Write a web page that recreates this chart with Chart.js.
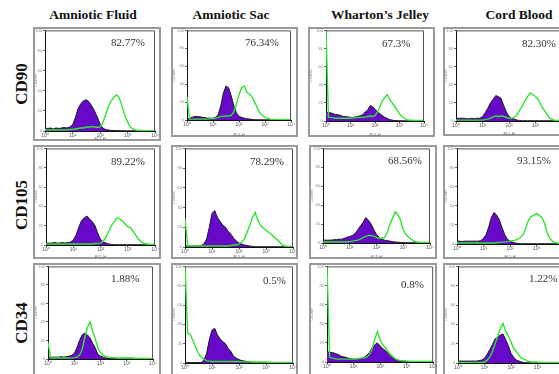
<!DOCTYPE html>
<html>
<head>
<meta charset="utf-8">
<script src="https://cdn.jsdelivr.net/npm/chart.js@4.4.1/dist/chart.umd.min.js"></script>
<style>
  body { margin: 0; width: 559px; height: 374px; overflow: hidden; background: #fff; position: relative; font-family: "Liberation Serif", "Times New Roman", serif; }
  .box { position: absolute; border: 2px solid #9a9a9a; box-sizing: border-box; }
  canvas { position: absolute; }
  .title { position: absolute; top: 7px; font-weight: bold; font-size: 13.5px; transform: translateX(-50%); white-space: nowrap; color: #111; }
  .rowlab { position: absolute; font-weight: bold; font-size: 17px; transform: translate(-50%, -50%) rotate(-90deg); white-space: nowrap; color: #111; }
  .pct { position: absolute; font-size: 11px; color: #333; line-height: 12px; white-space: nowrap; }
</style>
</head>
<body>
<script>
// Eje X en décadas logarítmicas (10^0 .. 10^4)
const decades = [0,0.1,0.2,0.3,0.4,0.5,0.6,0.7,0.8,0.9,1,1.1,1.2,1.3,1.4,1.5,1.6,1.7,1.8,1.9,2,2.1,2.2,2.3,2.4,2.5,2.6,2.7,2.8,2.9,3,3.1,3.2,3.3,3.4,3.5,3.6,3.7,3.8,3.9,4];
const tickLabels = ['10\u2070','10\u00b9','10\u00b2','10\u00b3','10\u2074'];
const sources = ['Amniotic Fluid', 'Amniotic Sac', 'Wharton\u2019s Jelley', 'Cord Blood'];
const markers = ['CD90', 'CD105', 'CD34'];
const percents = [
  ['82.77%', '76.34%', '67.3%', '82.30%'],
  ['89.22%', '78.29%', '68.56%', '93.15%'],
  ['1.88%', '0.5%', '0.8%', '1.22%']
];

// Isotipo (morado) y anticuerpo (verde), % de la altura del gráfico
const afCd90Iso = [3,2.5,3,2,3,2.5,3,3.5,3,4,6,13,22,27,30,31,29,25,20,14,7,3,1.5,1,0.6,0.5,0.4,0.3,0.3,0.2,0.2,0.2,0.2,0.2,0.2,0.2,0.2,0.2,0.2,0.2,0.2];
const afCd90Ab = [1.5,1,1,1,1,1,1,1,1.2,1.5,1.5,2,2.5,3,3,4,4,4.5,4,3.5,4,8,16,24,30,33,36,33,25,16,9,4,2,1,0.6,0.5,0.4,0.4,0.3,0.3,0.3];
const asCd90Iso = [1,2,3,4,4,3.5,3,2.5,2,2,2,3,6,16,30,38,36,27,16,8,4,3,2,1.5,1,0.6,0.4,0.3,0.2,0.2,0.2,0.2,0.2,0.2,0.2,0.2,0.2,0.2,0.2,0.2,0.2];
const asCd90Ab = [26,1,1,1,1,1,1,1,1,1.5,1.5,2,3,4,4,4.5,4.5,5,9,18,28,36,38,31,29,26,20,14,8,5,3,2,1,0.6,0.5,0.4,0.4,0.4,0.4,0.4,0.4];
const wjCd90Iso = [10,9,9,8,7,7,6,5,5,4.5,4,4,4.5,5,6,7,10,12,17,16,13,10,8,6,4,3,1.5,1,0.5,0.4,0.3,0.2,0.2,0.2,0.2,0.2,0.2,0.2,0.2,0.2,0.2];
const wjCd90Ab = [100,4,4,3.5,3,3,3,3,3,3,3,3.5,3.5,4,4,4,4.5,5,5.5,5,6,10,16,22,26,29,24,20,16,12,8,5,3,1.5,1,0.8,0.6,0.5,0.5,0.5,0.5];
const cbCd90Iso = [3,3,3,3,2.5,2.5,3,2.5,3,3,5,9,14,20,24,28,27,25,17,10,5,3,2,1,0.6,0.3,0.3,0.3,0.3,0.3,0.3,0.3,0.3,0.3,0.3,0.3,0.3,0.3,0.3,0.3,0.3];
const cbCd90Ab = [1,1,1,1,1,1,1,1,1,1,1,1.5,2,3,4.5,5.5,5,5.5,5,4,3,3,4,7,12,16,22,27,31,29,27,24,18,13,9,4,2,1,0.6,0.5,0.5];

const afCd105Iso = [2,2,2,2.5,2,2,2.5,2,2.5,3,5,10,18,25,28,30,27,24,20,12,6,3,2,1,0.6,0.3,0.3,0.3,0.3,0.3,0.3,0.3,0.3,0.3,0.3,0.3,0.3,0.3,0.3,0.3,0.3];
const afCd105Ab = [1,1,1,1,1,1,1,1,1,1,1,1,1,1,1,1,1,1,1.5,1.5,2,4,8,14,20,24,28,27,25,22,19,18,14,10,6,3,1.5,1,0.5,0.5,0.5];
const asCd105Iso = [1,1,1,1,1,1,1.5,3,8,20,34,37,30,26,22,20,16,13,9,6,4,3,2,1.5,1,0.6,0.3,0.3,0.3,0.3,0.3,0.3,0.3,0.3,0.3,0.3,0.3,0.3,0.3,0.3,0.3];
const asCd105Ab = [29,1,1,1,1,1,1,1,1,1,1,1,1,1,1,1,1,1.5,2,2,3,5,8,15,22,30,35,27,22,19,17,15,13,10,8,5,2,1,0.6,0.5,0.5];
const wjCd105Iso = [3,3,3,3,3.5,3.5,4,4,5,6,7,8,10,14,18,22,27,24,20,14,9,6,4,3,2.5,2,1.5,1,0.8,0.6,0.5,0.3,0.3,0.3,0.3,0.3,0.3,0.3,0.3,0.3,0.3];
const wjCd105Ab = [1,1,1,1,1,1,1,1,1,1,1.5,2,2.5,3,4,6,7,8,8,7,6,5,5,6,11,20,26,33,30,24,14,9,6,4,2,1,0.6,0.5,0.5,0.5,0.5];
const cbCd105Iso = [3,3,2.5,3,3,3,3,3,3,3.5,6,10,18,28,33,30,25,17,10,5,3,2,1,0.6,0.3,0.3,0.3,0.3,0.3,0.3,0.3,0.3,0.3,0.3,0.3,0.3,0.3,0.3,0.3,0.3,0.3];
const cbCd105Ab = [1,1,1,1,1,1,1,1,1,1,1,1,1,1,1,1.5,1.5,2,2,2.5,3,3.5,4,5,7,10,17,25,29,30,32,30,28,22,12,6,3,1.5,1,0.6,0.5];

const afCd34Iso = [2,2,2,2,2,2.5,2,2.5,3,4,6,12,20,26,28,26,23,17,12,5,3,2,1,0.6,0.3,0.3,0.3,0.3,0.3,0.3,0.3,0.3,0.3,0.3,0.3,0.3,0.3,0.3,0.3,0.3,0.3];
const afCd34Ab = [18,1,1,1,1,1,1,1,1,1.2,1.5,2,4,10,23,34,40,30,22,12,7,4,3,2,1.5,1.5,1.2,1,1,1,1,1,1,0.8,0.6,0.5,0.5,0.5,0.5,0.5,0.5];
const asCd34Iso = [0.5,0.5,0.5,0.5,0.5,0.5,0.5,3,10,24,34,36,29,25,22,20,15,12,7,5,3.5,2.5,2,1.5,1,0.6,0.3,0.3,0.3,0.3,0.3,0.3,0.3,0.3,0.3,0.3,0.3,0.3,0.3,0.3,0.3];
const asCd34Ab = [100,31,29,23,16,10,6,4,2.5,2,1.5,1.5,1.5,1.5,1.5,1.5,1.5,1.5,1.5,1.5,1.5,1.2,1.2,1.2,1.2,1,1,1,1,1,1,0.8,0.6,0.5,0.5,0.5,0.5,0.5,0.5,0.5,0.5];
const wjCd34Iso = [11,10,10,9,8,6.5,5.5,5,4,3.5,3,3,3.5,4,5,7,10,15,18,20,17,14,12,9,6,4,2.5,1.5,1,1,0.6,0.4,0.4,0.4,0.4,0.4,0.4,0.4,0.4,0.4,0.4];
const wjCd34Ab = [100,5,4,3.5,3,3,3,3,3,3,3,3,3.5,4,4.5,5,8,13,24,32,23,18,15,11,8,5,3,2,1.5,1,1,0.6,0.6,0.6,0.6,0.6,0.6,0.6,0.6,0.6,0.6];
const cbCd34Iso = [2,2,2,2,2,2,2,2,2.5,3,5,9,14,19,25,27,29,30,24,18,10,6,3,2,1,0.5,0.3,0.3,0.3,0.3,0.3,0.3,0.3,0.3,0.3,0.3,0.3,0.3,0.3,0.3,0.3];
const cbCd34Ab = [0.5,0.5,0.5,0.5,0.5,0.5,0.5,0.5,0.5,0.5,1,3,6,12,20,28,36,41,33,28,22,15,12,8,5,4,2.5,1.5,1,1,1,0.6,0.6,0.6,0.6,0.6,0.6,0.6,0.6,0.6,0.6];

const isoSeries = [
  [afCd90Iso, asCd90Iso, wjCd90Iso, cbCd90Iso],
  [afCd105Iso, asCd105Iso, wjCd105Iso, cbCd105Iso],
  [afCd34Iso, asCd34Iso, wjCd34Iso, cbCd34Iso]
];
const abSeries = [
  [afCd90Ab, asCd90Ab, wjCd90Ab, cbCd90Ab],
  [afCd105Ab, asCd105Ab, wjCd105Ab, cbCd105Ab],
  [afCd34Ab, asCd34Ab, wjCd34Ab, cbCd34Ab]
];

// Geometría de cada panel: caja, área de trazado y eje X
// [boxL, boxT, boxR, boxB, inL, inT, inR, axisY]
const layout = [
  [[33,27,161,141,45,30,155,131], [171,27,298,137,187,30,291,120], [308,27,435,137,326,29,424,121], [443,27,575,136,456,30,562,121]],
  [[33,145,161,259,46,147,155,245], [171,145,298,259,185,147,293,247], [309,145,437,259,323,147,430,243], [443,145,575,259,457,147,563,244]],
  [[33,263,161,385,48,265,153,359], [171,263,298,385,185,265,293,363], [309,263,437,385,327,265,434,362], [443,263,575,385,458,265,564,363]]
];
const pctPos = [
  [[111,42], [245,42], [382,43], [522,43]],
  [[111,161], [250,161], [388,160], [517,160]],
  [[111,278], [263,280], [401,284], [529,278]]
];
const titleX = [93, 231, 380, 519];
const rowLabelY = [84, 205, 323];

const framePlugin = {
  id: 'frame',
  afterDraw(chart) {
    const a = chart.chartArea, ctx = chart.ctx;
    ctx.save();
    ctx.strokeStyle = '#555';
    ctx.lineWidth = 1;
    ctx.beginPath();
    ctx.moveTo(a.left, a.top + 0.5);
    ctx.lineTo(a.right - 0.5, a.top + 0.5);
    ctx.lineTo(a.right - 0.5, a.bottom);
    ctx.stroke();
    ctx.restore();
  }
};

function addDiv(cls, text, style) {
  const d = document.createElement('div');
  d.className = cls;
  d.textContent = text;
  Object.assign(d.style, style);
  document.body.appendChild(d);
  return d;
}

sources.forEach((s, c) => addDiv('title', s, { left: titleX[c] + 'px' }));
markers.forEach((m, r) => addDiv('rowlab', m, { left: '22px', top: rowLabelY[r] + 'px' }));

for (let r = 0; r < 3; r++) {
  for (let c = 0; c < 4; c++) {
    const [bL, bT, bR, bB, iL, iT, iR, aY] = layout[r][c];
    const w = bR - bL, h = bB - bT;
    addDiv('box', '', { left: bL + 'px', top: bT + 'px', width: w + 'px', height: h + 'px' });

    const cv = document.createElement('canvas');
    cv.width = w; cv.height = h;
    cv.style.left = bL + 'px'; cv.style.top = bT + 'px';
    cv.style.width = w + 'px'; cv.style.height = h + 'px';
    document.body.appendChild(cv);

    const ab = abSeries[r][c].map((v, i) => ({ x: decades[i], y: v }));
    const iso = isoSeries[r][c].map((v, i) => ({ x: decades[i], y: v }));

    new Chart(cv.getContext('2d'), {
      type: 'line',
      data: {
        datasets: [
          { data: ab, borderColor: '#2ee62e', borderWidth: 1.4, fill: false, pointRadius: 0, tension: 0, order: 0 },
          { data: iso, borderColor: '#1c1c1c', borderWidth: 1, backgroundColor: '#6609c9', fill: 'origin', pointRadius: 0, tension: 0, order: 1 }
        ]
      },
      options: {
        responsive: false,
        animation: false,
        devicePixelRatio: 1,
        layout: { padding: { top: iT - bT, right: bR - iR, left: 0, bottom: 0 } },
        plugins: { legend: { display: false }, tooltip: { enabled: false } },
        scales: {
          x: {
            type: 'linear', min: 0, max: 4,
            afterFit: (sc) => { sc.height = bB - aY; },
            border: { color: '#111', width: 1 },
            grid: { drawOnChartArea: false, tickLength: 2, color: '#444' },
            ticks: { stepSize: 1, padding: 0, maxRotation: 0, font: { size: 5 }, color: '#555', callback: (v) => tickLabels[v] },
            title: { display: true, text: 'FL1-H', font: { size: 4 }, color: '#666', padding: 0 }
          },
          y: {
            min: 0, max: 100,
            afterFit: (sc) => { sc.width = iL - bL; },
            border: { color: '#111', width: 1 },
            grid: { drawOnChartArea: false, tickLength: 2, color: '#666' },
            ticks: { stepSize: 20, padding: 1, font: { size: 4 }, color: '#888' },
            title: { display: true, text: 'Counts', font: { size: 4 }, color: '#888', padding: 0 }
          }
        }
      },
      plugins: [framePlugin]
    });

    const [px, py] = pctPos[r][c];
    addDiv('pct', percents[r][c], { left: px + 'px', top: (py - 6) + 'px' });
  }
}
</script>
</body>
</html>
